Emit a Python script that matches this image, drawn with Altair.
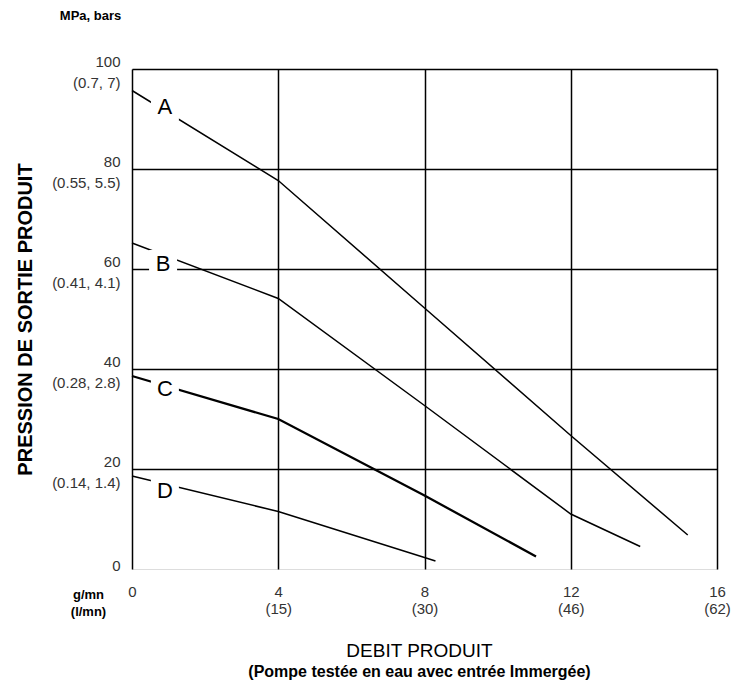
import altair as alt
import pandas as pd

# ---- data ----
series_names = ["A", "B", "C", "D"]
a_x = [0, 4, 8, 12, 15.2]
a_y = [95.7, 77.7, 52.2, 26.7, 6.8]
b_x = [0, 4, 8, 12, 13.9]
b_y = [65.2, 54.1, 32.7, 11.0, 4.5]
c_x = [0, 4, 8, 11.05]
c_y = [38.6, 30.0, 14.7, 2.5]
d_x = [0, 4, 8, 8.3]
d_y = [18.6, 11.5, 2.3, 1.6]

label_x = [0.9, 0.85, 0.9, 0.9]
label_y = [92.5, 61.0, 36.0, 15.7]

x_ticks = [0, 4, 8, 12, 16]
x_top = ["0", "4", "8", "12", "16"]
x_bottom = ["", "(15)", "(30)", "(46)", "(62)"]
y_ticks = [20, 40, 60, 80, 100]
y_top = ["20", "40", "60", "80", "100"]
y_bottom = ["(0.14, 1.4)", "(0.28, 2.8)", "(0.41, 4.1)", "(0.55, 5.5)", "(0.7, 7)"]
y_zero = [0]

y_title = "PRESSION DE SORTIE PRODUIT"
y_unit = "MPa, bars"
x_unit = ["g/mn", "(l/mn)"]
x_title = "DEBIT PRODUIT"
x_subtitle = "(Pompe testée en eau avec entrée Immergée)"

# ---- tables ----
rows = []
for name, xs, ys in zip(series_names, [a_x, b_x, c_x, d_x], [a_y, b_y, c_y, d_y]):
    for i, (xv, yv) in enumerate(zip(xs, ys)):
        rows.append({"series": name, "x": xv, "y": yv, "order": i})
df_lines = pd.DataFrame(rows)
df_labels = pd.DataFrame({"series": series_names, "lx": label_x, "ly": label_y})


def label_expr(ticks, tops, bottoms):
    expr = "''"
    for t, a, b in reversed(list(zip(ticks, tops, bottoms))):
        lines = [a] + ([b] if b else [])
        arr = "[" + ",".join("'" + s + "'" for s in lines) + "]"
        expr = f"datum.value == {t} ? {arr} : {expr}"
    return expr


FONT = "Liberation Sans"
xscale = alt.Scale(domain=[0, 16], nice=False, zero=False)
yscale = alt.Scale(domain=[0, 100], nice=False, zero=False)

lines = alt.Chart(df_lines).mark_line(color="black").encode(
    x=alt.X("x:Q", scale=xscale, axis=alt.Axis(
        values=x_ticks, labelExpr=label_expr(x_ticks, x_top, x_bottom),
        grid=True, gridColor="black", gridWidth=1.5, gridOpacity=1,
        ticks=False, domain=False, title=None,
        labelFont=FONT, labelFontSize=15, labelColor="#333",
        labelBaseline="top", labelAlign="center", labelPadding=15,
        labelLineHeight=17, labelFlush=False, labelOverlap=False)),
    y=alt.Y("y:Q", scale=yscale, axis=alt.Axis(
        values=y_ticks, labelExpr=label_expr(y_ticks, y_top, y_bottom),
        grid=True, gridColor="black", gridWidth=1.5, gridOpacity=1,
        ticks=False, domain=False,
        labelFont=FONT, labelFontSize=15, labelColor="#333",
        labelBaseline="middle", labelAlign="right", labelPadding=12,
        labelLineHeight=21, labelOffset=-8, labelFlush=False, labelOverlap=False,
        title=y_title, titleFont=FONT, titleFontSize=20, titleFontWeight="bold",
        titleColor="black", titleAngle=270, titleAlign="center",
        titleBaseline="middle", titleX=-107, titleY=250)),
    detail="series:N",
    order="order:Q",
    strokeWidth=alt.condition(alt.datum.series == "C", alt.value(2.3), alt.value(1.5)),
)

boxes = alt.Chart(df_labels).mark_square(size=784, color="white", opacity=1, strokeWidth=0).encode(
    x=alt.X("lx:Q", scale=xscale, axis=alt.Axis(
        orient="bottom", labels=False, ticks=False, domain=False, grid=False,
        title=x_unit, titleFont=FONT, titleFontSize=13, titleFontWeight="bold",
        titleColor="black", titleX=-44, titleY=25, titleAlign="center",
        titleBaseline="middle", titleLineHeight=17)),
    y=alt.Y("ly:Q", scale=yscale, axis=alt.Axis(
        orient="left", values=y_zero, ticks=False, domain=False, grid=False,
        labelFont=FONT, labelFontSize=15, labelColor="#333",
        labelBaseline="middle", labelAlign="right", labelPadding=12,
        labelOffset=-4, labelFlush=False,
        title=y_unit, titleFont=FONT, titleFontSize=13, titleFontWeight="bold",
        titleColor="black", titleAngle=0, titleAlign="center",
        titleBaseline="middle", titleX=-42, titleY=-54)),
)

texts = alt.Chart(df_labels).mark_text(
    font=FONT, fontSize=22, color="black", align="center", baseline="middle"
).encode(
    x=alt.X("lx:Q", scale=xscale, axis=None),
    y=alt.Y("ly:Q", scale=yscale, axis=None),
    text="series:N",
)

chart = alt.layer(lines, boxes, texts).resolve_axis(
    x="independent", y="independent"
).properties(
    width=585, height=500,
    padding={"left": 7, "top": 1, "right": 5, "bottom": 0},
    title=alt.TitleParams(
        text=x_title, subtitle=x_subtitle, orient="bottom", anchor="middle",
        frame="group", dx=-5, offset=24, font=FONT, fontSize=19,
        fontWeight="normal", color="black", subtitleFont=FONT,
        subtitleFontSize=16, subtitleFontWeight="bold", subtitleColor="black",
        subtitlePadding=3),
).configure_view(
    stroke="black", strokeWidth=2
).configure(background="white")

chart.save("out.html", embed_options={"renderer": "svg", "actions": False})
